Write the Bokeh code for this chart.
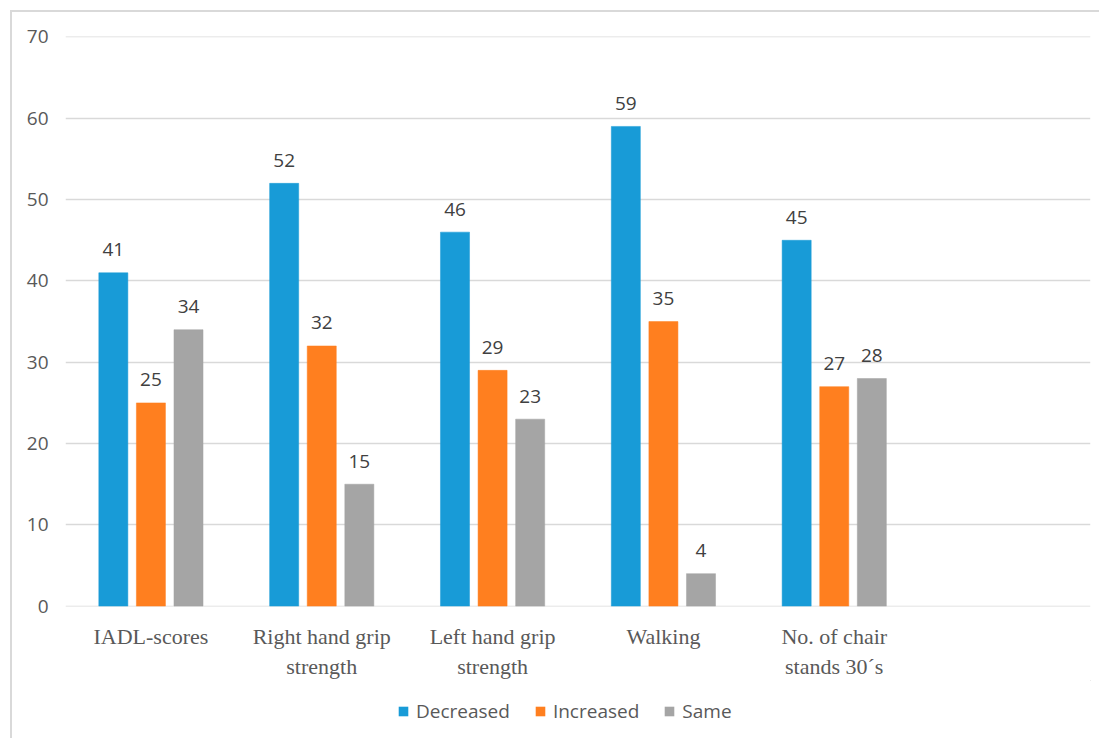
from bokeh.plotting import figure
from bokeh.models import ColumnDataSource, FactorRange, Legend, LegendItem, FixedTicker, Range1d
from bokeh.layouts import column
from bokeh.transform import dodge
from bokeh.core.properties import value
from bokeh.embed import file_html
from bokeh.resources import INLINE

# ---- data ----
categories = ["IADL-scores", "Right hand grip\nstrength", "Left hand grip\nstrength",
              "Walking", "No. of chair\nstands 30\u00b4s", " "]
decreased = [41, 52, 46, 59, 45, None]
increased = [25, 32, 29, 35, 27, None]
same = [34, 15, 23, 4, 28, None]
series_names = ["Decreased", "Increased", "Same"]
series_colors = ["#189BD7", "#FF7F1F", "#A5A5A5"]
y_ticks = [0, 10, 20, 30, 40, 50, 60, 70]

nan = float("nan")
def clean(v):
    return [nan if x is None else x for x in v]

src = ColumnDataSource(dict(
    cat=categories,
    Decreased=clean(decreased),
    Increased=clean(increased),
    Same=clean(same),
    lab_d=[("" if x is None else str(x)) for x in decreased],
    lab_i=[("" if x is None else str(x)) for x in increased],
    lab_s=[("" if x is None else str(x)) for x in same],
))

BORDER = "2px solid #D9D9D9"

p = figure(width=1089, height=670, x_range=FactorRange(*categories), y_range=Range1d(-0.04, 70.06),
           output_backend="svg", toolbar_location=None,
           min_border_left=53, min_border_right=11, min_border_top=24, min_border_bottom=76)
p.title.visible = False
p.outline_line_color = None
p.background_fill_color = "white"
p.border_fill_color = "white"
p.margin = (10, 0, 0, 10)
p.styles = {"border-top": BORDER, "border-left": BORDER}

offsets = [-0.22, 0.0, 0.22]
bar_w = 0.17
label_cols = ["lab_d", "lab_i", "lab_s"]
for name, col, off, lc in zip(series_names, series_colors, offsets, label_cols):
    p.vbar(x=dodge("cat", off, range=p.x_range), top=name, bottom=0, width=bar_w, source=src,
           fill_color=col, line_color=col, line_width=0.5)
    p.text(x=dodge("cat", off, range=p.x_range), y=name, text=lc, source=src,
           text_align="center", text_baseline="alphabetic", y_offset=-23,
           text_font=value("Open Sans"), text_font_size="19px", text_color="#404040")

# axes
p.yaxis.ticker = FixedTicker(ticks=y_ticks)
p.yaxis.axis_line_color = None
p.yaxis.major_tick_line_color = None
p.yaxis.minor_tick_line_color = None
p.yaxis.major_label_standoff = 11
p.yaxis.major_label_text_font = "Open Sans"
p.yaxis.major_label_text_font_size = "19px"
p.yaxis.major_label_text_color = "#595959"

p.xaxis.axis_line_color = None
p.xaxis.major_tick_line_color = None
p.xaxis.minor_tick_line_color = None
p.xaxis.major_label_standoff = 11
p.xaxis.major_label_text_font = "Liberation Serif"
p.xaxis.major_label_text_font_size = "22px"
p.xaxis.major_label_text_color = "#595959"

p.xgrid.grid_line_color = None
p.ygrid.grid_line_color = "#D9D9D9"
p.ygrid.grid_line_width = 1.5

# ---- legend strip ----
pl = figure(width=1089, height=58, output_backend="svg", toolbar_location=None,
            x_axis_location=None, y_axis_location=None,
            x_range=Range1d(0, 1), y_range=Range1d(0, 1),
            min_border_left=0, min_border_right=0, min_border_top=0, min_border_bottom=0)
pl.title.visible = False
pl.outline_line_color = None
pl.xgrid.visible = False
pl.ygrid.visible = False
pl.margin = (0, 0, 0, 10)
pl.styles = {"border-left": BORDER}
leg_renderers = [pl.vbar(x=[5], top=[5], bottom=[5], width=0.1, fill_color=c, line_color=None)
                 for c in series_colors]

legend = Legend(items=[LegendItem(label=n, renderers=[r]) for n, r in zip(series_names, leg_renderers)],
                orientation="horizontal", location=(332, 14),
                label_text_font="Open Sans", label_text_font_size="19px", label_text_color="#595959",
                glyph_width=12, glyph_height=12, label_standoff=7, spacing=24,
                padding=0, margin=0, border_line_color=None, background_fill_alpha=0)
pl.add_layout(legend, "center")

layout = column(p, pl, spacing=0)
open("out.html", "w").write(file_html(layout, INLINE))
